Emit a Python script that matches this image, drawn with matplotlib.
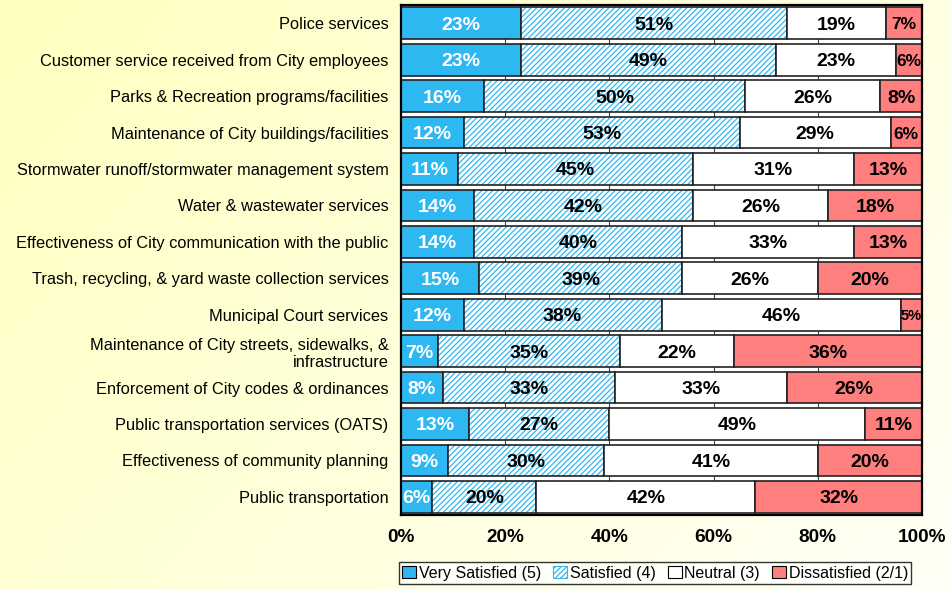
import numpy as np
import matplotlib.pyplot as plt
from matplotlib.patches import Patch

plt.rcParams['font.family'] = ['Liberation Sans', 'DejaVu Sans']
plt.rcParams['hatch.linewidth'] = 0.9

categories = [
    "Police services",
    "Customer service received from City employees",
    "Parks & Recreation programs/facilities",
    "Maintenance of City buildings/facilities",
    "Stormwater runoff/stormwater management system",
    "Water & wastewater services",
    "Effectiveness of City communication with the public",
    "Trash, recycling, & yard waste collection services",
    "Municipal Court services",
    "Maintenance of City streets, sidewalks, &\ninfrastructure",
    "Enforcement of City codes & ordinances",
    "Public transportation services (OATS)",
    "Effectiveness of community planning",
    "Public transportation",
]
very_satisfied = [23, 23, 16, 12, 11, 14, 14, 15, 12, 7, 8, 13, 9, 6]
satisfied = [51, 49, 50, 53, 45, 42, 40, 39, 38, 35, 33, 27, 30, 20]
neutral = [19, 23, 26, 29, 31, 26, 33, 26, 46, 22, 33, 49, 41, 42]
dissatisfied = [7, 6, 8, 6, 13, 18, 13, 20, 5, 36, 26, 11, 20, 32]

series = [very_satisfied, satisfied, neutral, dissatisfied]
names = ["Very Satisfied (5)", "Satisfied (4)", "Neutral (3)", "Dissatisfied (2/1)"]
blue = "#2EB8F2"
red = "#FF7F7F"
faces = [blue, "white", "white", red]
hatches = [None, "//////", None, None]
text_colors = ["white", "black", "black", "black"]

fig = plt.figure(figsize=(9.51, 5.9), dpi=100)

# yellow gradient background
bg = fig.add_axes([0, 0, 1, 1], zorder=-10)
gx, gy = np.meshgrid(np.linspace(0, 1, 200), np.linspace(0, 1, 200))
t = np.clip(0.65 * gx + 0.35 * gy, 0, 1)
img = np.ones((200, 200, 3))
img[..., 2] = (192 + (246 - 192) * t) / 255
bg.imshow(img, aspect='auto', extent=[0, 1, 0, 1])
bg.axis('off')

ax = fig.add_axes([0.4217, 0.127, 0.5478, 0.8645])
y = np.arange(len(categories))
left = np.zeros(len(categories))
h = 0.87
for vals, face, hatch, tc in zip(series, faces, hatches, text_colors):
    vals = np.array(vals, dtype=float)
    if hatch:
        ax.barh(y, vals, left=left, height=h, color="white", hatch=hatch,
                edgecolor=blue, linewidth=0)
        ax.barh(y, vals, left=left, height=h, fill=False, edgecolor="#222222", linewidth=1.2)
    else:
        ax.barh(y, vals, left=left, height=h, color=face, edgecolor="#222222", linewidth=1.2)
    for yi, (l, v) in enumerate(zip(left, vals)):
        cx = min(l + v / 2, (l + 100) / 2)
        fs = 14
        if face == red and v <= 5:
            fs = 10.5
        elif face == red and v <= 7:
            fs = 12.5
        ax.text(cx, yi, f"{int(v)}%", ha='center', va='center_baseline', color=tc,
                fontsize=fs, fontweight='bold')
    left += vals

# small Excel-style ticks between rows
for yb in np.arange(len(categories) - 1) + 0.5:
    ax.plot([20, 40, 60, 80], [yb] * 4, linestyle='none', marker='|',
            markersize=4, color='#444444', markeredgewidth=0.8, zorder=0.5)

ax.set_xlim(0, 100)
ax.set_ylim(len(categories) - 0.5, -0.5)
ax.set_yticks(y)
ax.set_yticklabels(categories, fontsize=11.8)
ax.tick_params(axis='y', length=0, pad=9)
ax.set_xticks([0, 20, 40, 60, 80, 100])
ax.set_xticklabels(["0%", "20%", "40%", "60%", "80%", "100%"], fontsize=13.7, fontweight='bold')
ax.tick_params(axis='x', length=0, pad=10)
for lab in ax.get_yticklabels():
    lab.set_multialignment('right')
for s in ax.spines.values():
    s.set_linewidth(1.6)
    s.set_color("black")
ax.set_facecolor("white")

handles = [Patch(facecolor=blue, edgecolor="black", linewidth=0.8),
           Patch(facecolor="white", edgecolor=blue, hatch="//////", linewidth=0.8),
           Patch(facecolor="white", edgecolor="black", linewidth=0.8),
           Patch(facecolor=red, edgecolor="black", linewidth=0.8)]
leg = fig.legend(handles, names, loc='lower left', bbox_to_anchor=(0.416, 0.005),
                 ncol=4, fontsize=11.5, frameon=True, fancybox=False,
                 handlelength=0.9, handleheight=0.8, handletextpad=0.15,
                 columnspacing=0.75, borderpad=0.2, borderaxespad=0.2)
leg.get_frame().set_edgecolor("black")
leg.get_frame().set_linewidth(1.0)

fig.savefig("out.png", dpi=100)
